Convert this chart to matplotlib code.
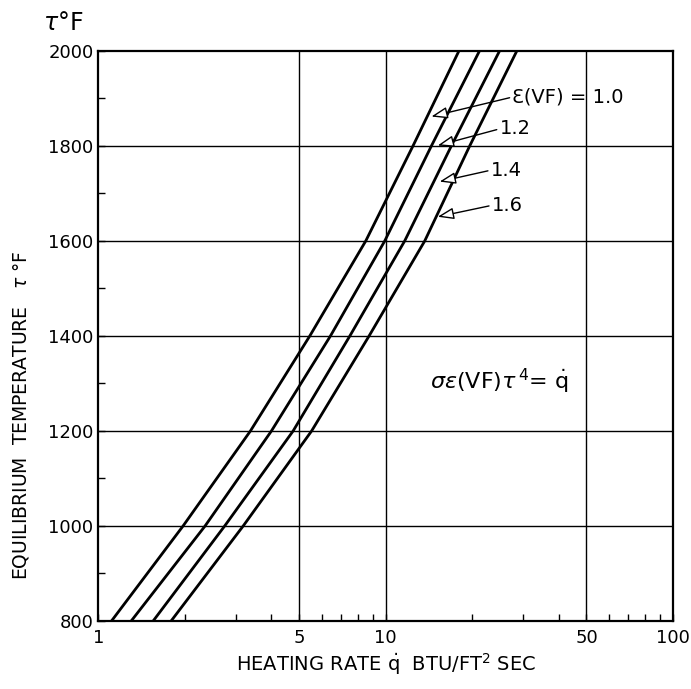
import matplotlib
matplotlib.use("Agg")
import matplotlib.pyplot as plt
from matplotlib.ticker import FixedLocator, NullFormatter

# Data (temperature in deg F vs heating rate)
temps = [800, 1000, 1200, 1400, 1600, 1800, 2000]
q_e10 = [1.11, 1.97, 3.38, 5.44, 8.52, 12.44, 17.98]
q_e12 = [1.30, 2.35, 4.00, 6.42, 9.92, 14.42, 21.2]
q_e14 = [1.55, 2.75, 4.76, 7.50, 11.64, 16.92, 24.9]
q_e16 = [1.79, 3.19, 5.52, 8.75, 13.67, 19.6, 28.6]
series = [q_e10, q_e12, q_e14, q_e16]
curve_labels = ["Ɛ(VF) = 1.0", "1.2", "1.4", "1.6"]

x_ticks = [1, 5, 10, 50, 100]
x_ticklabels = ["1", "5", "10", "50", "100"]
y_ticks = [800, 1000, 1200, 1400, 1600, 1800, 2000]

# annotation arrow tips (on curves) and label positions
tips = [(14.42, 1862), (15.17, 1801), (15.4, 1725), (15.17, 1651)]
label_pos = [(27.6, 1903), (24.9, 1836), (23.2, 1749), (23.4, 1675)]

fig = plt.figure(figsize=(6.91, 6.89), dpi=100)
ax = fig.add_axes([0.1425, 0.0987, 0.8314, 0.8273])
ax.set_xscale("log")
ax.set_xlim(1, 100)
ax.set_ylim(800, 2000)

for q in series:
    ax.plot(q, temps, color="black", lw=2.0, solid_joinstyle="round")

# grid lines
for xv in [5, 10, 50]:
    ax.axvline(xv, color="black", lw=1.0)
for yv in y_ticks[1:-1]:
    ax.axhline(yv, color="black", lw=1.0)

ax.xaxis.set_major_locator(FixedLocator(x_ticks))
ax.set_xticklabels(x_ticklabels)
minors = [v * d for d in (1, 10) for v in range(2, 10) if v * d not in (5, 50)]
ax.xaxis.set_minor_locator(FixedLocator(minors))
ax.xaxis.set_minor_formatter(NullFormatter())
ax.yaxis.set_major_locator(FixedLocator(y_ticks))
ax.yaxis.set_minor_locator(FixedLocator(list(range(900, 2000, 200))))
ax.tick_params(which="both", direction="in", length=5, width=1.0, labelsize=13)
ax.tick_params(axis="x", which="major", pad=6)
for s in ax.spines.values():
    s.set_linewidth(1.6)

for (tx, ty), (lx, ly), lab in zip(tips, label_pos, curve_labels):
    ax.annotate(lab, xy=(tx, ty), xytext=(lx, ly), fontsize=14,
                va="center", ha="left",
                arrowprops=dict(arrowstyle="-|>,head_length=0.7,head_width=0.25",
                                fc="white", ec="black", lw=1.0,
                                shrinkA=0, shrinkB=0,
                                relpos=(0, 0.5)))

ax.text(14.3, 1305, r"$\sigma\varepsilon$(VF)$\tau^{\,4}$= $\dot{\rm q}$", fontsize=16,
        ha="left", va="center")

ax.set_xlabel(r"HEATING RATE $\dot{\rm q}$  BTU/FT$^{2}$ SEC", fontsize=14, labelpad=3)
fig.text(0.03, 0.398, r"EQUILIBRIUM  TEMPERATURE   $\tau$ °F", rotation=90,
         fontsize=13.5, ha="center", va="center")
fig.text(0.062, 0.966, r"$\tau$°F", fontsize=17, ha="left", va="center")

fig.savefig("out.png", dpi=100)
